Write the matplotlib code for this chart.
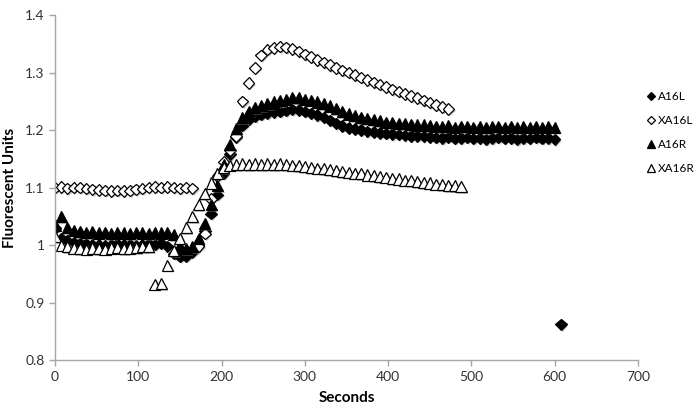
import matplotlib
matplotlib.use("Agg")
import matplotlib.pyplot as plt
import matplotlib.patheffects as pe
from matplotlib.ticker import FuncFormatter
import numpy as np

plt.rcParams['font.family'] = ['Lato', 'DejaVu Sans']

# sampling interval of the plate reader (seconds)
dt = 7.5

a16l = [1.030, 1.012, 1.008, 1.005, 1.003, 1.002, 1.000, 1.001, 0.999, 1.000,
        1.002, 1.000, 1.001, 0.999, 1.000, 1.002, 1.001, 1.003, 0.998, 0.985,
        0.980, 0.981, 0.988, 1.000, 1.025, 1.055, 1.088, 1.125, 1.158, 1.188,
        1.208, 1.218, 1.224, 1.227, 1.229, 1.231, 1.232, 1.234, 1.236, 1.235,
        1.232, 1.229, 1.226, 1.222, 1.217, 1.212, 1.207, 1.204, 1.202, 1.200,
        1.198, 1.197, 1.195, 1.194, 1.193, 1.192, 1.191, 1.190, 1.190, 1.189,
        1.188, 1.187, 1.186, 1.188, 1.185, 1.186, 1.187, 1.185, 1.186, 1.184,
        1.186, 1.187, 1.185, 1.186, 1.184, 1.186, 1.185, 1.187, 1.185, 1.186,
        1.184, 0.862]

xa16l = [1.100, 1.101, 1.099, 1.100, 1.100, 1.098, 1.097, 1.096, 1.095, 1.094,
         1.095, 1.094, 1.095, 1.097, 1.098, 1.100, 1.101, 1.100, 1.101, 1.100,
         1.099, 1.100, 1.099, 0.998, 1.020, 1.080, 1.120, 1.145, 1.165, 1.190,
         1.250, 1.282, 1.308, 1.330, 1.340, 1.343, 1.345, 1.344, 1.341, 1.337,
         1.332, 1.327, 1.322, 1.318, 1.313, 1.308, 1.304, 1.300, 1.296, 1.291,
         1.287, 1.283, 1.279, 1.275, 1.271, 1.267, 1.263, 1.259, 1.256, 1.252,
         1.248, 1.244, 1.240, 1.237]

a16r = [1.035, 1.050, 1.030, 1.026, 1.024, 1.022, 1.023, 1.021, 1.022, 1.020,
        1.022, 1.021, 1.020, 1.022, 1.021, 1.020, 1.022, 1.021, 1.022, 1.018,
        1.000, 0.994, 0.998, 1.012, 1.038, 1.070, 1.104, 1.140, 1.175, 1.203,
        1.222, 1.233, 1.239, 1.243, 1.246, 1.249, 1.251, 1.254, 1.256, 1.256,
        1.254, 1.252, 1.249, 1.246, 1.242, 1.237, 1.232, 1.228, 1.225, 1.222,
        1.220, 1.218, 1.216, 1.214, 1.213, 1.212, 1.211, 1.210, 1.209, 1.209,
        1.208, 1.207, 1.206, 1.208, 1.205, 1.206, 1.207, 1.205, 1.206, 1.204,
        1.206, 1.207, 1.205, 1.206, 1.204, 1.206, 1.205, 1.207, 1.205, 1.206,
        1.205]

xa16r = [1.015, 1.000, 0.997, 0.995, 0.994, 0.993, 0.995, 0.994, 0.993, 0.995,
         0.996, 0.994, 0.995, 0.996, 0.997, 0.998, 0.932, 0.933, 0.965, 0.990,
         1.012, 1.030, 1.050, 1.070, 1.090, 1.108, 1.125, 1.135, 1.139, 1.140,
         1.141, 1.140, 1.141, 1.140, 1.141, 1.140, 1.141, 1.140, 1.139, 1.138,
         1.137, 1.135, 1.134, 1.133, 1.131, 1.130, 1.128, 1.127, 1.125, 1.124,
         1.122, 1.121, 1.119, 1.118, 1.116, 1.115, 1.113, 1.112, 1.110, 1.109,
         1.108, 1.106, 1.105, 1.104, 1.103, 1.102]

series = [("A16L", a16l, "D", "black", 5.8),
          ("XA16L", xa16l, "D", "white", 5.8),
          ("A16R", a16r, "^", "black", 8),
          ("XA16R", xa16r, "^", "white", 8)]

fig = plt.figure(figsize=(6.96, 4.13), dpi=100)
ax = fig.add_axes([0.079, 0.128, 0.8376, 0.8354])

shadow = [pe.SimplePatchShadow(offset=(1.2, -1.2), shadow_rgbFace="0.5", alpha=0.45), pe.Normal()]
for name, vals, mk, face, ms in series:
    t = np.arange(len(vals)) * dt
    ax.plot(t, vals, linestyle="none", marker=mk, markersize=ms,
            markerfacecolor=face, markeredgecolor="black", markeredgewidth=0.9,
            label=name, path_effects=shadow)

ax.set_xlim(0, 700)
ax.set_ylim(0.8, 1.4)
ax.set_xticks(np.arange(0, 701, 100))
ax.set_yticks(np.arange(0.8, 1.401, 0.1))
ax.yaxis.set_major_formatter(FuncFormatter(lambda v, p: "%g" % round(v, 2)))

for s in ["top", "right"]:
    ax.spines[s].set_visible(False)
for s in ["left", "bottom"]:
    ax.spines[s].set_color("#a6a6a6")
    ax.spines[s].set_linewidth(1.0)
ax.tick_params(colors="#a6a6a6", labelcolor="#333333", labelsize=10, length=4, width=1.0)

ax.set_xlabel("Seconds", fontsize=11, fontweight="bold", labelpad=6)
ax.set_ylabel("Fluorescent Units", fontsize=11, fontweight="bold")
ax.yaxis.set_label_coords(-0.066, 0.5)

leg = ax.legend(loc="center left", bbox_to_anchor=(0.922, 0.68), bbox_transform=fig.transFigure,
                frameon=False, fontsize=8.5, handlelength=0.6, handletextpad=0.25,
                labelspacing=1.1, borderpad=0, markerscale=0.75)
for h in leg.legend_handles:
    h.set_path_effects([])

plt.savefig("out.png", dpi=100)
